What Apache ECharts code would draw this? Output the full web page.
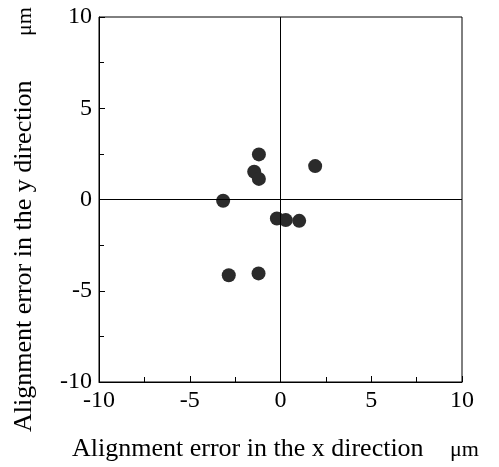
<!DOCTYPE html>
<html>
<head>
<meta charset="utf-8">
<script src="https://cdn.jsdelivr.net/npm/echarts@6/dist/echarts.min.js"></script>
<style>
html,body{margin:0;padding:0;background:#fff;}
#c{width:499px;height:467px;}
</style>
</head>
<body>
<div id="c"></div>
<script>
// Data (micrometres)
const xErrors = [-1.19, -1.45, -1.19, 1.91, -3.16, -0.20, 0.29, 1.03, -2.85, -1.21];
const yErrors = [2.47, 1.52, 1.13, 1.83, -0.07, -1.04, -1.13, -1.17, -4.15, -4.05];
const xTicks = [-10, -5, 0, 5, 10];
const yTicks = [-10, -5, 0, 5, 10];
const xTitle = 'Alignment error in the x direction';
const yTitle = 'Alignment error in the y direction';
const unitLabel = 'μm';

const points = xErrors.map((x, i) => [x, yErrors[i]]);
const FONT = '"Liberation Serif", "Times New Roman", serif';

const chart = echarts.init(document.getElementById('c'), null, {renderer: 'canvas'});

function axisCommon(ticks) {
  return {
    type: 'value',
    min: ticks[0],
    max: ticks[ticks.length - 1],
    interval: ticks[1] - ticks[0],
    axisLine: {onZero: false, show: true, lineStyle: {color: '#000', width: 1}},
    axisTick: {show: true, inside: true, length: 6, lineStyle: {color: '#000', width: 1}},
    minorTick: {show: true, splitNumber: 2, length: 5, lineStyle: {color: '#000', width: 1}},
    splitLine: {show: false},
    axisLabel: {color: '#000', fontFamily: FONT, fontSize: 24, margin: 7}
  };
}

const xAxis = axisCommon(xTicks);
const yAxis = axisCommon(yTicks);
const titleFont = '26px ' + FONT;
const unitFont = '22px ' + FONT;

chart.setOption({
  animation: false,
  backgroundColor: '#fff',
  grid: {left: 99, right: 37, top: 17, bottom: 85, show: true, borderColor: '#000', borderWidth: 1, backgroundColor: 'transparent'},
  xAxis: xAxis,
  yAxis: yAxis,
  graphic: [
    {type: 'text', x: 72, y: 449, style: {text: xTitle, font: titleFont, fill: '#000', textAlign: 'left', textVerticalAlign: 'middle'}},
    {type: 'text', x: 450, y: 450, style: {text: unitLabel, font: unitFont, fill: '#000', textAlign: 'left', textVerticalAlign: 'middle'}},
    {type: 'text', x: 24, y: 432, rotation: Math.PI / 2, style: {text: yTitle, font: titleFont, fill: '#000', textAlign: 'left', textVerticalAlign: 'middle'}},
    {type: 'text', x: 25, y: 36, rotation: Math.PI / 2, style: {text: unitLabel, font: unitFont, fill: '#000', textAlign: 'left', textVerticalAlign: 'middle'}}
  ],
  series: [{
    type: 'scatter',
    data: points,
    symbol: 'circle',
    symbolSize: 14,
    itemStyle: {color: '#2b2b2b', opacity: 1},
    markLine: {
      silent: true,
      symbol: 'none',
      label: {show: false},
      lineStyle: {color: '#000', width: 1, type: 'solid'},
      data: [{xAxis: 0}, {yAxis: 0}]
    },
    z: 3
  }]
});
</script>
</body>
</html>
